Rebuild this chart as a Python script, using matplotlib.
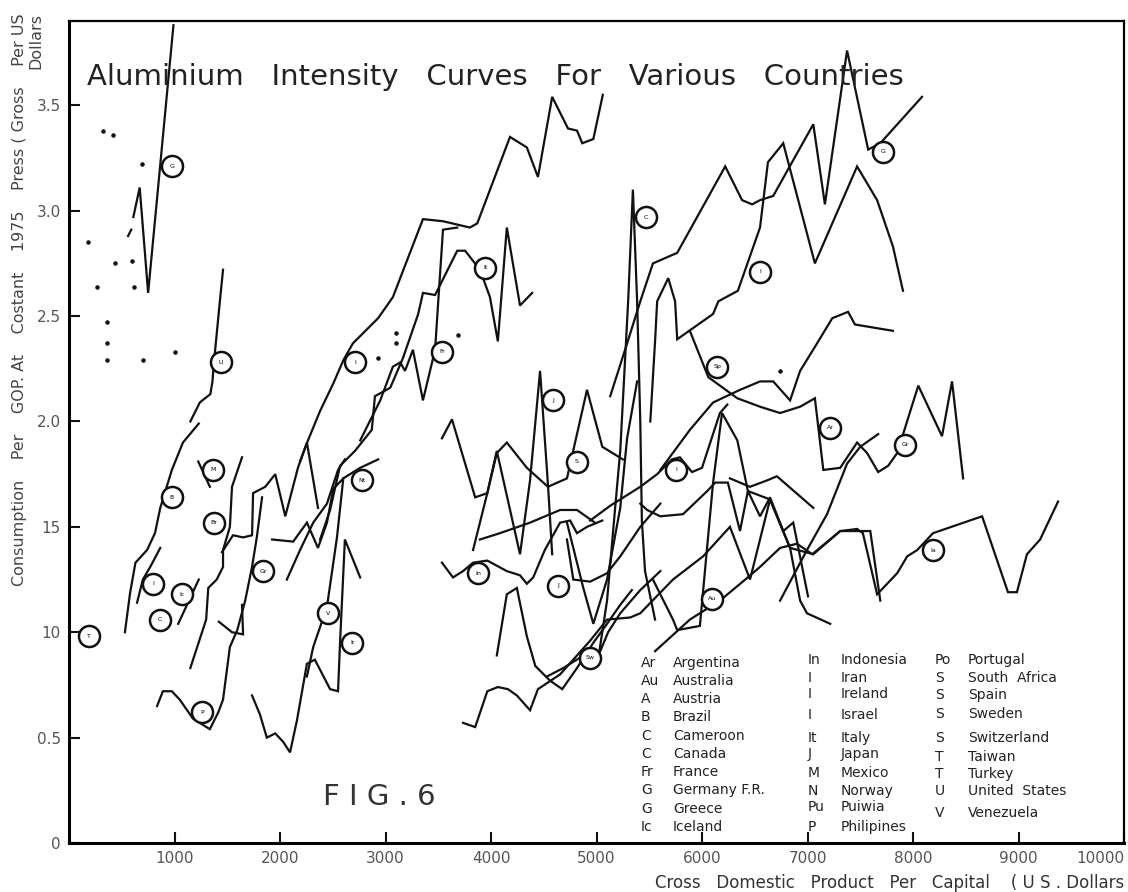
import matplotlib.pyplot as plt

# Courbes : PIB par habitant ($ US) / intensité aluminium
c01_x = [610, 670, 750, 990]
c01_y = [2.97, 3.11, 2.61, 3.88]
c02_x = [560, 590]
c02_y = [2.88, 2.91]
c03_x = [1150, 1240, 1340, 1360, 1370, 1430, 1460]
c03_y = [2.00, 2.09, 2.13, 2.19, 2.26, 2.57, 2.72]
c04_x = [530, 580, 630, 740, 815, 865, 975, 1080, 1230]
c04_y = [1.00, 1.19, 1.33, 1.39, 1.47, 1.59, 1.77, 1.90, 1.99]
c05_x = [645, 700, 770, 865]
c05_y = [1.14, 1.25, 1.31, 1.40]
c06_x = [1035, 1230]
c06_y = [1.04, 1.25]
c07_x = [1225, 1335]
c07_y = [1.81, 1.69]
c08_x = [1150, 1300, 1320, 1400, 1460, 1460, 1525, 1545, 1640]
c08_y = [0.83, 1.06, 1.21, 1.25, 1.31, 1.39, 1.50, 1.69, 1.83]
c09_x = [1450, 1555, 1650, 1735, 1745, 1860, 1955, 2050, 2170, 2255, 2360]
c09_y = [1.38, 1.46, 1.45, 1.46, 1.66, 1.69, 1.75, 1.55, 1.78, 1.90, 1.59]
c10_x = [835, 890, 975, 1050, 1175, 1335, 1415, 1460, 1525, 1595, 1670, 1735, 1780, 1830]
c10_y = [0.65, 0.72, 0.72, 0.68, 0.59, 0.54, 0.62, 0.68, 0.93, 1.01, 1.15, 1.31, 1.45, 1.64]
c11_x = [1420, 1545, 1650, 1640]
c11_y = [1.05, 1.00, 0.99, 1.13]
c12_x = [1925, 2125, 2255, 2360, 2445, 2505, 2600, 2760, 2930]
c12_y = [1.44, 1.43, 1.52, 1.40, 1.52, 1.68, 1.73, 1.78, 1.82]
c13_x = [2065, 2190, 2315, 2445, 2550, 2615]
c13_y = [1.25, 1.39, 1.52, 1.61, 1.77, 1.82]
c14_x = [2190, 2265, 2380, 2505, 2600, 2690, 2930, 3070, 3355, 3545, 3800,
         3870, 4180, 4340, 4445, 4580, 4730, 4815, 4865, 4970, 5060]
c14_y = [1.81, 1.91, 2.05, 2.18, 2.29, 2.37, 2.49, 2.59, 2.96, 2.95, 2.92,
         2.94, 3.35, 3.30, 3.16, 3.54, 3.39, 3.38, 3.32, 3.34, 3.55]
c15_x = [2380, 2475, 2570, 2710, 2870, 2900, 3045, 3165, 3310, 3355, 3470,
         3680, 3755, 3895, 3990, 4065, 4150, 4275, 4390]
c15_y = [1.44, 1.58, 1.79, 1.86, 1.96, 2.12, 2.16, 2.30, 2.51, 2.61, 2.60,
         2.81, 2.81, 2.72, 2.59, 2.38, 2.92, 2.55, 2.61]
c16_x = [2760, 2950, 3070, 3140, 3185, 3260, 3355, 3470, 3500, 3545, 3680]
c16_y = [1.91, 2.10, 2.26, 2.28, 2.24, 2.34, 2.10, 2.34, 2.57, 2.91, 2.92]
c17_x = [1735, 1810, 1875, 1955, 2030, 2095, 2160, 2255, 2330, 2475, 2550, 2570, 2615, 2760]
c17_y = [0.70, 0.61, 0.50, 0.52, 0.48, 0.43, 0.58, 0.85, 0.87, 0.73, 0.72, 0.96, 1.44, 1.26]
c18_x = [2255, 2315, 2445, 2540, 2600]
c18_y = [0.79, 0.93, 1.12, 1.45, 1.73]
c19_x = [3535, 3630, 3850, 3965, 4055, 4150, 4340, 4540, 4720, 4910, 5055, 5250]
c19_y = [1.92, 2.01, 1.64, 1.66, 1.85, 1.90, 1.78, 1.69, 1.73, 2.15, 1.88, 1.82]
c20_x = [3830, 3965, 4055, 4275, 4370, 4465, 4540, 4580]
c20_y = [1.39, 1.66, 1.86, 1.37, 1.72, 2.24, 1.70, 1.37]
c21_x = [3895, 4085, 4370, 4655, 4815, 4985]
c21_y = [1.44, 1.47, 1.52, 1.58, 1.58, 1.52]
c22_x = [3535, 3640, 3735, 3830, 3965, 4150, 4275, 4340, 4400, 4510, 4655,
         4750, 4815, 4910, 5055]
c22_y = [1.33, 1.26, 1.29, 1.33, 1.34, 1.29, 1.27, 1.23, 1.26, 1.39, 1.52,
         1.53, 1.47, 1.50, 1.53]
c23_x = [4055, 4150, 4245, 4340, 4420, 4560, 4675, 4815, 4970, 5100, 5225, 5335]
c23_y = [0.89, 1.18, 1.21, 0.98, 0.84, 0.77, 0.73, 0.83, 0.95, 1.04, 1.13, 1.20]
c24_x = [3735, 3850, 3965, 4065, 4160, 4245, 4370, 4445, 4655, 4940, 5100, 5320,
         5415, 5725, 6010, 6265, 6455, 6645, 6835, 7055, 7310, 7595, 7690]
c24_y = [0.57, 0.55, 0.72, 0.74, 0.73, 0.70, 0.63, 0.73, 0.80, 0.96, 1.06, 1.07,
         1.09, 1.25, 1.36, 1.50, 1.25, 1.63, 1.40, 1.37, 1.48, 1.48, 1.15]
c25_x = [5015, 5100, 5175, 5225, 5300, 5345, 5385, 5415, 5430, 5460, 5555]
c25_y = [0.87, 1.15, 1.58, 1.86, 2.57, 3.10, 2.57, 2.00, 1.53, 1.29, 1.06]
c26_x = [5130, 5290, 5415, 5535, 5765, 6220, 6380, 6475, 6550, 6675, 7055,
         7165, 7375, 7575, 7690, 8085]
c26_y = [2.12, 2.37, 2.57, 2.75, 2.80, 3.21, 3.05, 3.03, 3.05, 3.07, 3.41,
         3.03, 3.76, 3.29, 3.32, 3.54]
c27_x = [5510, 5555, 5575, 5680, 5745, 5765, 6105, 6155, 6340, 6550, 6625,
         6770, 7070, 7470, 7660, 7810, 7905]
c27_y = [2.00, 2.38, 2.57, 2.68, 2.57, 2.39, 2.51, 2.57, 2.62, 2.92, 3.23,
         3.32, 2.75, 3.21, 3.05, 2.83, 2.62]
c28_x = [5885, 6060, 6335, 6550, 6740, 6930, 7070, 7150, 7310, 7470, 7565,
         7670, 7765, 7850, 8050, 8275, 8370, 8475]
c28_y = [2.43, 2.21, 2.11, 2.07, 2.04, 2.07, 2.11, 1.77, 1.78, 1.90, 1.85,
         1.76, 1.79, 1.85, 2.17, 1.93, 2.19, 1.73]
c29_x = [5605, 5885, 6105, 6360, 6550, 6675, 6835, 6930, 7090, 7235, 7385, 7450, 7810]
c29_y = [1.77, 1.96, 2.09, 2.15, 2.19, 2.19, 2.10, 2.24, 2.37, 2.49, 2.52, 2.46, 2.43]
c30_x = [5555, 5885, 6170, 6410, 6550, 6740, 6900, 7045, 7310, 7470, 7525,
         7660, 7850, 7945, 8040, 8190, 8655, 8900, 8985, 9080, 9205, 9375]
c30_y = [0.91, 1.06, 1.15, 1.25, 1.31, 1.40, 1.42, 1.37, 1.48, 1.49, 1.47,
         1.18, 1.28, 1.36, 1.39, 1.47, 1.55, 1.19, 1.19, 1.37, 1.44, 1.62]
c31_x = [6740, 6995, 7185, 7375, 7500, 7670]
c31_y = [1.15, 1.39, 1.56, 1.80, 1.88, 1.94]
c32_x = [6265, 6455, 6615, 6710, 7055]
c32_y = [1.73, 1.69, 1.72, 1.74, 1.59]
c33_x = [5535, 5725, 5765, 5980, 6105, 6190, 6335, 6435, 6645, 6835, 6930, 6995, 7215]
c33_y = [1.25, 1.06, 1.01, 1.03, 1.71, 2.04, 1.91, 1.67, 1.63, 1.40, 1.15, 1.09, 1.04]
c34_x = [5415, 5480, 5605, 5820, 6050, 6125, 6245, 6360, 6435, 6550, 6645, 6770, 6865, 7005]
c34_y = [1.61, 1.58, 1.55, 1.56, 1.67, 1.71, 1.71, 1.48, 1.67, 1.55, 1.64, 1.48, 1.52, 1.17]
c35_x = [4940, 5130, 5415, 5575, 5715, 5790, 5905, 6000, 6170, 6240]
c35_y = [1.53, 1.60, 1.69, 1.75, 1.82, 1.83, 1.76, 1.78, 2.04, 2.08]
c36_x = [4720, 4780, 4940, 5100, 5225, 5415, 5605]
c36_y = [1.44, 1.25, 1.24, 1.28, 1.36, 1.50, 1.61]
c37_x = [4720, 4875, 4970, 5100, 5225, 5290, 5385]
c37_y = [1.52, 1.21, 1.04, 1.25, 1.59, 1.92, 2.19]
c38_x = [4530, 4685, 4910, 5035, 5110, 5225, 5415, 5605]
c38_y = [0.79, 0.83, 0.90, 0.91, 1.00, 1.09, 1.20, 1.29]

# points isolés
points_x = [320, 415, 690, 180, 435, 595, 265, 615, 360, 360, 360, 700, 1005,
            3100, 3100, 3690, 2930, 6740]
points_y = [3.38, 3.36, 3.22, 2.85, 2.75, 2.76, 2.64, 2.64, 2.47, 2.37, 2.29,
            2.29, 2.33, 2.42, 2.37, 2.41, 2.30, 2.24]

# étiquettes entourées sur les courbes
cercles_x = [975, 1440, 975, 1365, 1375, 795, 1070, 865, 190, 1260, 1840, 2455,
             2685, 2780, 2710, 3535, 3945, 4590, 4815, 3875, 4635, 4940, 5470,
             5755, 6145, 6095, 6550, 7715, 7215, 7925, 8190]
cercles_y = [3.21, 2.28, 1.64, 1.77, 1.52, 1.23, 1.18, 1.06, 0.98, 0.62, 1.29, 1.09,
             0.95, 1.72, 2.28, 2.33, 2.73, 2.10, 1.81, 1.28, 1.22, 0.88, 2.97,
             1.77, 2.26, 1.16, 2.71, 3.28, 1.97, 1.89, 1.39]
cercles_txt = ["G", "U", "B", "M", "Br", "I", "Ic", "C", "T", "P", "Gr", "V",
               "Ir", "Nt", "I", "Fr", "It", "J", "S", "In", "J", "Sw", "C",
               "I", "Sp", "Au", "I", "G", "Ar", "Gr", "Ia"]

courbes = [(c01_x, c01_y), (c02_x, c02_y), (c03_x, c03_y), (c04_x, c04_y),
           (c05_x, c05_y), (c06_x, c06_y), (c07_x, c07_y), (c08_x, c08_y),
           (c09_x, c09_y), (c10_x, c10_y), (c11_x, c11_y), (c12_x, c12_y),
           (c13_x, c13_y), (c14_x, c14_y), (c15_x, c15_y), (c16_x, c16_y),
           (c17_x, c17_y), (c18_x, c18_y), (c19_x, c19_y), (c20_x, c20_y),
           (c21_x, c21_y), (c22_x, c22_y), (c23_x, c23_y), (c24_x, c24_y),
           (c25_x, c25_y), (c26_x, c26_y), (c27_x, c27_y), (c28_x, c28_y),
           (c29_x, c29_y), (c30_x, c30_y), (c31_x, c31_y), (c32_x, c32_y),
           (c33_x, c33_y), (c34_x, c34_y), (c35_x, c35_y), (c36_x, c36_y),
           (c37_x, c37_y), (c38_x, c38_y)]

yticks = [0, 0.5, 1.0, 1.5, 2.0, 2.5, 3.0, 3.5]
ytick_labels = ["0", "0.5", "10", "15", "2.0", "2.5", "3.0", "3.5"]
xticks = [1000, 2000, 3000, 4000, 5000, 6000, 7000, 8000, 9000, 10000]

legende_col1 = [("Ar", "Argentina"), ("Au", "Australia"), ("A", "Austria"),
                ("B", "Brazil"), ("C", "Cameroon"), ("C", "Canada"),
                ("Fr", "France"), ("G", "Germany F.R."), ("G", "Greece"),
                ("Ic", "Iceland")]
legende_col2 = [("In", "Indonesia"), ("I", "Iran"), ("I", "Ireland"),
                ("I", "Israel"), ("It", "Italy"), ("J", "Japan"),
                ("M", "Mexico"), ("N", "Norway"), ("Pu", "Puiwia"),
                ("P", "Philipines")]
legende_col3 = [("Po", "Portugal"), ("S", "South  Africa"), ("S", "Spain"),
                ("S", "Sweden"), ("S", "Switzerland"), ("T", "Taiwan"),
                ("T", "Turkey"), ("U", "United  States"), ("V", "Venezuela")]

W, H = 1128, 892
fig = plt.figure(figsize=(W / 100, H / 100), dpi=100)
ax = fig.add_axes([69 / W, 49 / H, 1055 / W, 822 / H])

for xs, ys in courbes:
    ax.plot(xs, ys, color="#111111", lw=1.6, solid_joinstyle="miter")

ax.scatter(points_x, points_y, s=5, color="#111111", zorder=3)
ax.scatter(cercles_x, cercles_y, s=230, facecolors="white",
           edgecolors="#111111", linewidths=1.8, zorder=4)
for x, y, t in zip(cercles_x, cercles_y, cercles_txt):
    ax.text(x, y, t, fontsize=4.5, ha="center", va="center", zorder=5)

ax.set_xlim(0, 10000)
ax.set_ylim(0, 3.9)
ax.set_xticks(xticks)
ax.set_xticklabels([str(v) for v in xticks])
ax.get_xticklabels()[-1].set_horizontalalignment("right")
ax.set_yticks(yticks)
ax.set_yticklabels(ytick_labels)
ax.tick_params(direction="in", length=8, width=1.5, colors="#111111",
               labelcolor="#555555", labelsize=11, pad=6)
for s in ["left", "bottom"]:
    ax.spines[s].set_linewidth(2.2)
for s in ["top", "right"]:
    ax.spines[s].set_linewidth(1.6)

fig.text(87 / W, 1 - 77 / H,
         "Aluminium   Intensity   Curves   For   Various   Countries",
         fontsize=21, color="#222222", va="center", ha="left")
fig.text(323 / W, 1 - 797 / H, "F I G . 6", fontsize=21, color="#333333",
         va="center", ha="left")
fig.text(1124 / W, 1 - 883 / H,
         "Cross   Domestic   Product   Per   Capital    ( U S . Dollars",
         fontsize=12, color="#333333", va="center", ha="right")
fig.text(20 / W, 1 - 300 / H,
         "Consumption    Per    GOP. At    Costant    1975    Press ( Gross    Per US",
         fontsize=11.5, color="#444444", rotation=90, va="center", ha="center")
fig.text(36 / W, 1 - 41 / H, "Dollars", fontsize=11.5, color="#444444",
         rotation=90, va="center", ha="center")

cols = [(641, 673, legende_col1, [663, 681, 699, 717, 736, 754, 772, 790, 809, 827]),
        (808, 841, legende_col2, [660, 678, 694, 715, 738, 754, 773, 791, 807, 827]),
        (935, 968, legende_col3, [660, 678, 695, 714, 738, 757, 774, 791, 813])]
for xa, xn, items, rows in cols:
    for (abbr, nom), yr in zip(items, rows):
        fig.text(xa / W, 1 - yr / H, abbr, fontsize=10, color="#222222",
                 va="center", ha="left")
        fig.text(xn / W, 1 - yr / H, nom, fontsize=10, color="#222222",
                 va="center", ha="left")

fig.savefig("out.png", dpi=100)
